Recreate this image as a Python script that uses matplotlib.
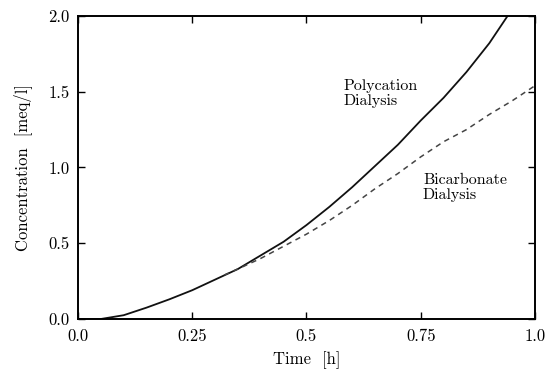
import matplotlib
matplotlib.use("Agg")
import matplotlib.pyplot as plt

plt.rcParams['font.family'] = 'serif'
plt.rcParams['font.serif'] = ['cmr10', 'DejaVu Serif']
plt.rcParams['axes.formatter.use_mathtext'] = True

# polycation dialysis (solid)
t_poly = [0.0, 0.05, 0.1, 0.15, 0.2, 0.25, 0.3, 0.35, 0.4, 0.45, 0.5,
          0.55, 0.6, 0.65, 0.7, 0.75, 0.8, 0.85, 0.9, 0.94]
c_poly = [0.0, 0.0, 0.025, 0.075, 0.13, 0.19, 0.26, 0.33, 0.42, 0.51, 0.62,
          0.74, 0.87, 1.01, 1.15, 1.31, 1.46, 1.63, 1.82, 2.0]

# bicarbonate dialysis (dashed), splits off around 0.32 h
t_bic = [0.32, 0.35, 0.4, 0.45, 0.5, 0.55, 0.6, 0.65, 0.7, 0.75,
         0.8, 0.85, 0.9, 0.95, 1.0]
c_bic = [0.29, 0.33, 0.40, 0.48, 0.56, 0.65, 0.75, 0.86, 0.96, 1.07,
         1.17, 1.25, 1.35, 1.44, 1.54]

xticks = [0.0, 0.25, 0.5, 0.75, 1.0]
xtick_labels = ['0.0', '0.25', '0.5', '0.75', '1.0']
yticks = [0.0, 0.5, 1.0, 1.5, 2.0]
ytick_labels = ['0.0', '0.5', '1.0', '1.5', '2.0']

fig = plt.figure(figsize=(5.47, 3.72), dpi=100)
ax = fig.add_axes([0.1426, 0.1425, 0.8354, 0.8145])

ax.plot(t_poly, c_poly, color='#111111', lw=1.3)
ax.plot(t_bic, c_bic, color='#444444', lw=1.1, dashes=(3.5, 3.0))

ax.set_xlim(0, 1.0)
ax.set_ylim(0, 2.0)
ax.set_xticks(xticks)
ax.set_xticklabels(xtick_labels)
ax.set_yticks(yticks)
ax.set_yticklabels(ytick_labels)
ax.tick_params(direction='in', top=True, right=True, length=5, width=1,
               labelsize=12)
ax.tick_params(axis='x', pad=7)
ax.tick_params(axis='y', pad=6)
for s in ax.spines.values():
    s.set_linewidth(1.4)

ax.set_xlabel('Time  [h]', fontsize=12, labelpad=5)
ax.set_ylabel('Concentration  [meq/l]', fontsize=12, labelpad=12)

ax.text(0.582, 1.49, 'Polycation\nDialysis', fontsize=11.5, va='center',
        ha='left', linespacing=1.1)
ax.text(0.755, 0.865, 'Bicarbonate\nDialysis', fontsize=11.5, va='center',
        ha='left', linespacing=1.1)

fig.savefig('out.png', dpi=100)
